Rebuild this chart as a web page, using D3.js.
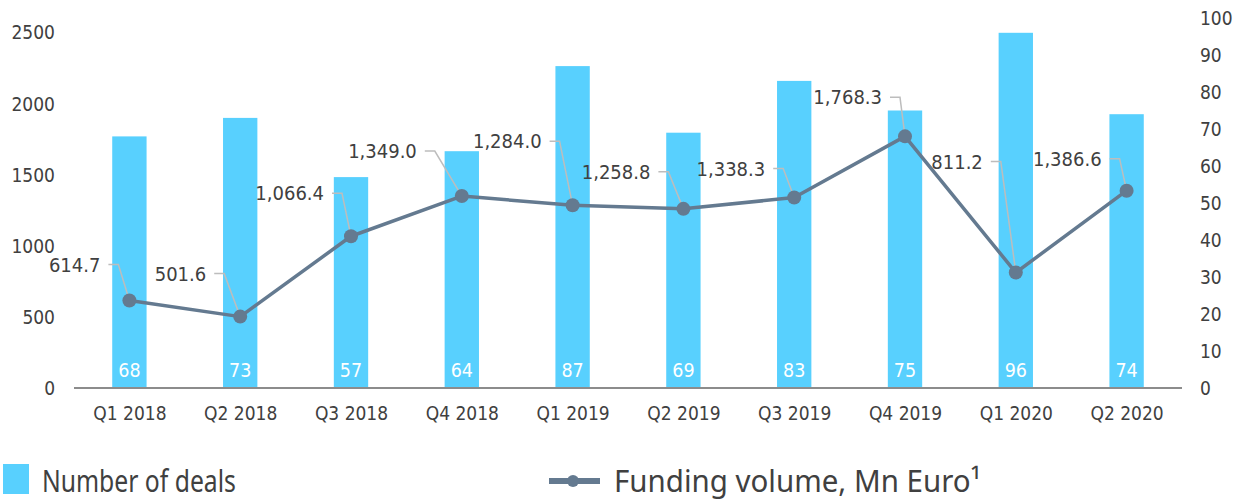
<!DOCTYPE html>
<html>
<head>
<meta charset="utf-8">
<script src="https://cdn.jsdelivr.net/npm/d3@7"></script>
<style>
  html, body { margin: 0; padding: 0; background: #fff; }
  svg { display: block; }
  text { font-family: "DejaVu Sans Condensed", "DejaVu Sans", sans-serif; fill: #404040; }
</style>
</head>
<body>
<svg id="chart" width="1243" height="501"></svg>
<script>
// Quarterly data
const quarters = ["Q1 2018", "Q2 2018", "Q3 2018", "Q4 2018", "Q1 2019",
                  "Q2 2019", "Q3 2019", "Q4 2019", "Q1 2020", "Q2 2020"];
const deals = [68, 73, 57, 64, 87, 69, 83, 75, 96, 74];
const funding = [614.7, 501.6, 1066.4, 1349.0, 1284.0, 1258.8, 1338.3, 1768.3, 811.2, 1386.6];
const leftTicks = [0, 500, 1000, 1500, 2000, 2500];
const rightTicks = [0, 10, 20, 30, 40, 50, 60, 70, 80, 90, 100];

// Callout placement for funding labels: [text-end dx, text dy] from the point
const calloutOffsets = [[-29, -36], [-34, -43], [-27, -43], [-45, -45], [-31, -64],
                        [-33, -37], [-29, -29], [-23, -39], [-33, -111], [-25, -32]];

const barColor = "#58D0FE";
const lineColor = "#647A90";
const leaderColor = "#BDBDBD";

const svg = d3.select("#chart");
const plot = { left: 74, right: 1182, top: 18, bottom: 388 };

const x = d3.scalePoint().domain(quarters).range([plot.left, plot.right]).padding(0.5);
const step = x.step();
const barW = step * 0.31;
const yLeft = d3.scaleLinear().domain([0, 2600]).range([plot.bottom, plot.top]);
const yRight = d3.scaleLinear().domain([0, 100]).range([plot.bottom, plot.top]);

// Bars: number of deals (right axis)
svg.append("g").selectAll("rect").data(deals).join("rect")
  .attr("x", (d, i) => x(quarters[i]) - barW / 2)
  .attr("width", barW)
  .attr("y", d => yRight(d))
  .attr("height", d => yRight(0) - yRight(d))
  .attr("fill", barColor);

// Deal counts inside the bars
svg.append("g").selectAll("text").data(deals).join("text")
  .attr("x", (d, i) => x(quarters[i]))
  .attr("y", plot.bottom - 11)
  .attr("text-anchor", "middle")
  .style("fill", "#fff")
  .style("font-size", "19.5px")
  .text(d => d);

// Baseline
svg.append("line")
  .attr("x1", plot.left).attr("x2", plot.right)
  .attr("y1", plot.bottom).attr("y2", plot.bottom)
  .attr("stroke", "#8C8C8C").attr("stroke-width", 2);

// Left axis (funding volume)
const leftAxis = d3.axisLeft(yLeft).tickValues(leftTicks).tickSize(0).tickPadding(0).tickFormat(d3.format("d"));
const gL = svg.append("g").attr("transform", "translate(55,0)").call(leftAxis);
gL.select(".domain").remove();
gL.selectAll("text").style("font-size", "19px").attr("dy", "0.35em");

// Right axis (number of deals)
const rightAxis = d3.axisRight(yRight).tickValues(rightTicks).tickSize(0).tickPadding(0);
const gR = svg.append("g").attr("transform", "translate(1200,0)").call(rightAxis);
gR.select(".domain").remove();
gR.selectAll("text").style("font-size", "19px").attr("dy", "0.35em");

// Category axis
const bottomAxis = d3.axisBottom(x).tickSize(0).tickPadding(0);
const gB = svg.append("g").attr("transform", `translate(0,${plot.bottom + 18})`).call(bottomAxis);
gB.select(".domain").remove();
gB.selectAll("text").style("font-size", "19px").attr("dy", "0.35em").attr("y", 7);

// Funding line (left axis)
const pts = funding.map((v, i) => [x(quarters[i]), yLeft(v)]);
svg.append("path")
  .attr("d", d3.line()(pts))
  .attr("fill", "none")
  .attr("stroke", lineColor)
  .attr("stroke-width", 3.5)
  .attr("stroke-linejoin", "round");

// Callout leaders
const callouts = svg.append("g");
funding.forEach((v, i) => {
  const [px, py] = pts[i];
  const [dx, dy] = calloutOffsets[i];
  const tx = px + dx, ty = py + dy;
  callouts.append("path")
    .attr("d", `M${tx + 8},${ty} L${tx + 18},${ty} L${px},${py}`)
    .attr("fill", "none")
    .attr("stroke", leaderColor)
    .attr("stroke-width", 1.5);
});

// Markers
svg.append("g").selectAll("circle").data(pts).join("circle")
  .attr("cx", d => d[0]).attr("cy", d => d[1]).attr("r", 7)
  .attr("fill", lineColor);

// Callout labels
const fmt = d3.format(",.1f");
funding.forEach((v, i) => {
  const [px, py] = pts[i];
  const [dx, dy] = calloutOffsets[i];
  callouts.append("text")
    .attr("x", px + dx).attr("y", py + dy)
    .attr("dy", "0.35em")
    .attr("text-anchor", "end")
    .style("font-size", "20px")
    .text(fmt(v));
});

// Legend: condensed large labels, squeezed horizontally to a target width
function legendText(g, str, x0, y0, width) {
  const t = g.append("text")
    .style("font-family", "'Noto Sans', sans-serif").style("font-size", "31px")
    .text(str);
  const w = t.node().getComputedTextLength();
  t.attr("transform", `translate(${x0},${y0}) scale(${width / w},1)`);
  return t;
}
const legend = svg.append("g");
legend.append("rect").attr("x", 3).attr("y", 464).attr("width", 26).attr("height", 30).attr("fill", barColor);
legendText(legend, "Number of deals", 42, 492, 194);
legend.append("line").attr("x1", 549).attr("x2", 600).attr("y1", 481).attr("y2", 481)
  .attr("stroke", lineColor).attr("stroke-width", 6);
legend.append("circle").attr("cx", 573).attr("cy", 481).attr("r", 6).attr("fill", lineColor);
legendText(legend, "Funding volume, Mn Euro¹", 614, 492, 367);
</script>
</body>
</html>
